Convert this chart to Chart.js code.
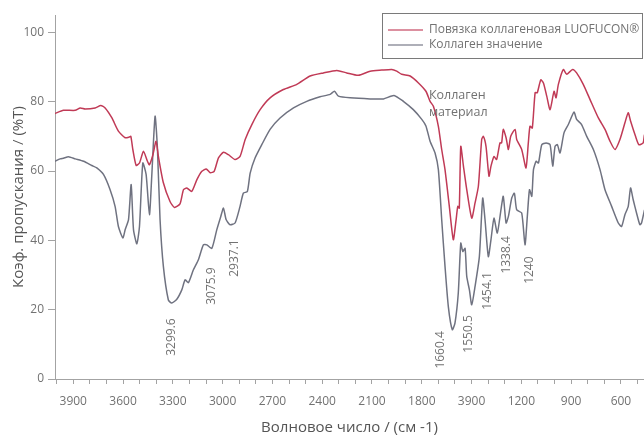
<!DOCTYPE html>
<html><head><meta charset="utf-8">
<script src="https://cdn.jsdelivr.net/npm/chart.js@4"></script>
<style>html,body{margin:0;padding:0;background:#fff;}#wrap{width:644px;height:437px;position:relative;}</style>
</head><body><div id="wrap"><canvas id="c" width="644" height="437"></canvas></div>
<script>
const seriesNames = ['Повязка коллагеновая LUOFUCON®', 'Коллаген значение'];

const redWavenumbers = [4010,3959,3888,3858,3828,3768,3734,3708,3667,3628,3587,3562,3553,3541,3521,3501,3477,3453,3441,3420,3401,3387,3357,3317,3290,3257,3236,3216,3186,3155,3125,3099,3075,3051,3025,2995,2965,2925,2895,2864,2824,2774,2714,2634,2553,2473,2393,2312,2252,2182,2111,2041,1981,1951,1921,1870,1820,1775,1750,1730,1700,1680,1660,1634,1610,1593,1583,1574,1565,1549,1529,1499,1479,1459,1439,1429,1413,1395,1383,1365,1349,1329,1319,1309,1292,1278,1264,1238,1228,1198,1172,1158,1148,1134,1117,1104,1083,1067,1047,1027,1003,991,977,947,927,891,867,827,786,736,696,666,636,606,576,556,542,512,492,466,458];
const redValues = [76.6,77.5,77.5,78.2,77.9,78.2,78.9,78.2,75.3,71.5,69.6,69.8,70.0,66.2,61.6,62.3,65.7,62.8,61.8,64.7,68.6,64.2,56.6,51.2,49.5,50.5,54.6,55.1,54.1,57.5,59.9,60.6,59.5,59.9,63.8,65.4,64.7,63.3,64.2,69.1,73.4,77.7,81.1,83.5,85.0,87.4,88.3,89.0,88.3,87.6,88.8,89.1,89.3,88.8,87.9,87.4,85.4,83.0,80.1,78.7,72.9,66.2,60.4,49.8,40.2,46.0,49.8,49.3,67.1,61.4,54.6,46.4,50.8,55.6,69.1,70.0,67.1,58.5,61.4,64.2,63.3,68.1,68.1,72.0,69.6,66.2,70.0,72.0,69.1,66.2,60.9,68.1,72.9,72.4,82.6,82.6,86.3,85.4,81.6,77.7,83.0,81.1,85.0,89.3,87.9,89.3,88.3,85.0,80.6,75.3,72.0,68.6,66.2,69.1,73.9,76.8,74.4,70.0,67.6,68.1,70.5];

const grayWavenumbers = [4010,3979,3959,3929,3888,3838,3788,3758,3718,3678,3648,3628,3601,3587,3567,3551,3537,3517,3501,3481,3461,3441,3427,3407,3393,3377,3357,3327,3307,3276,3246,3226,3206,3176,3146,3116,3095,3065,3035,3011,2995,2979,2955,2925,2895,2875,2851,2834,2804,2764,2714,2654,2573,2493,2413,2352,2326,2302,2232,2111,2031,1967,1911,1851,1800,1775,1750,1720,1700,1680,1660,1640,1616,1600,1580,1565,1553,1539,1529,1513,1499,1479,1453,1433,1419,1399,1383,1365,1345,1323,1309,1292,1278,1258,1242,1228,1198,1178,1164,1151,1137,1127,1111,1097,1077,1051,1027,1011,997,983,967,943,917,883,867,837,806,766,726,696,656,616,596,576,556,542,526,506,486,476,458];
const grayValues = [62.8,63.5,63.7,64.1,63.5,62.8,61.6,60.9,59.0,54.6,49.8,44.0,40.7,43.1,46.0,56.1,43.1,39.0,44.0,62.3,59.0,47.4,58.5,75.8,66.7,46.0,32.5,22.8,21.9,23.0,25.7,28.6,27.8,31.5,34.4,38.7,38.7,37.7,43.1,46.9,49.3,46.0,44.5,45.0,49.8,53.6,54.1,59.4,63.8,67.6,72.0,75.3,78.2,80.1,81.4,82.1,83.0,81.6,81.1,80.8,80.8,81.8,80.1,77.7,74.9,73.0,68.6,65.2,60.4,46.0,32.5,20.9,14.2,16.1,24.8,39.2,36.8,37.7,29.6,25.7,21.4,26.7,35.3,52.2,46.0,35.3,40.2,46.4,42.1,48.8,52.7,45.0,46.9,52.2,53.6,48.8,47.9,38.7,46.9,54.6,52.7,60.4,62.8,62.3,67.6,68.1,67.6,61.4,67.1,67.6,65.2,71.0,73.4,77.0,74.9,73.4,70.0,66.2,60.4,54.6,49.8,45.0,44.0,47.4,49.8,55.1,51.7,47.9,44.5,45.0,48.8];

const xTickValues = [3900,3600,3300,3000,2700,2400,2100,1800,1500,1200,900,600];
const xTickLabels = ['3900','3600','3300','3000','2700','2400','2100','1800','3900','1200','900','600'];
const yTickValues = [0,20,40,60,80,100];

const peakLabels = ['3299.6','3075.9','2937.1','1660.4','1550.5','1454.1','1338.4','1240'];
const peakWavenumbers = [3305,3064,2926,1685,1516,1402,1287,1152];
const peakLevels = [12.1,26.8,34.9,8.4,13.0,25.4,35.8,31.4];

const noteLines = ['Коллаген','материал'];
const noteWavenumber = 1757;
const noteLevels = [81.7,77.0];

const FONT = "'Open Sans', 'Noto Sans', sans-serif";
const TEXT = '#727272';
const AXIS = '#a3a3a3';
const RED = '#c03a56';
const GRAY = '#6f7280';

const annotPlugin = {
  id: 'annot',
  afterDatasetsDraw(chart) {
    const {ctx, scales: {x, y}} = chart;
    ctx.save();
    ctx.fillStyle = TEXT;
    ctx.font = '12px ' + FONT;
    ctx.textAlign = 'center';
    ctx.textBaseline = 'middle';
    peakLabels.forEach((t, i) => {
      ctx.save();
      ctx.translate(x.getPixelForValue(peakWavenumbers[i]), y.getPixelForValue(peakLevels[i]));
      ctx.rotate(-Math.PI / 2);
      ctx.fillText(t, 0, 0);
      ctx.restore();
    });
    ctx.textAlign = 'left';
    ctx.font = '12.5px ' + FONT;
    noteLines.forEach((t, i) => {
      ctx.fillText(t, x.getPixelForValue(noteWavenumber), y.getPixelForValue(noteLevels[i]));
    });
    ctx.restore();
  }
};

const legendPlugin = {
  id: 'boxLegend',
  afterDraw(chart) {
    const ctx = chart.ctx;
    const bx = 382.5, by = 13.5, bw = 260, bh = 45;
    ctx.save();
    ctx.fillStyle = '#fff';
    ctx.fillRect(bx, by, bw, bh);
    ctx.strokeStyle = '#7a7a7a';
    ctx.lineWidth = 1;
    ctx.strokeRect(bx, by, bw, bh);
    ctx.font = '12px ' + FONT;
    ctx.textBaseline = 'middle';
    ctx.textAlign = 'left';
    chart.data.datasets.forEach((ds, i) => {
      const yy = 30 + i * 15;
      ctx.strokeStyle = ds.borderColor;
      ctx.globalAlpha = 0.75;
      ctx.lineWidth = 1.5;
      ctx.beginPath();
      ctx.moveTo(388, yy);
      ctx.lineTo(423, yy);
      ctx.stroke();
      ctx.globalAlpha = 1;
      ctx.fillStyle = TEXT;
      ctx.fillText(ds.label, 429, yy);
    });
    ctx.restore();
  }
};

new Chart(document.getElementById('c'), {
  type: 'line',
  data: {
    datasets: [
      {label: seriesNames[0], data: redWavenumbers.map((w, i) => ({x: w, y: redValues[i]})), borderColor: RED, borderWidth: 1.5, pointRadius: 0, tension: 0.2, fill: false},
      {label: seriesNames[1], data: grayWavenumbers.map((w, i) => ({x: w, y: grayValues[i]})), borderColor: GRAY, borderWidth: 1.5, pointRadius: 0, tension: 0.2, fill: false}
    ]
  },
  options: {
    responsive: false,
    animation: false,
    layout: {padding: {top: 15, right: 0, left: 0, bottom: 0}},
    plugins: {legend: {display: false}, tooltip: {enabled: false}},
    scales: {
      x: {
        type: 'linear', reverse: true, min: 461, max: 4010,
        afterBuildTicks: s => { const t = []; for (let v = 500; v <= 4000; v += 100) t.push({value: v}); s.ticks = t; },
        afterFit: s => { s.height = 58; },
        ticks: {autoSkip: false, maxRotation: 0, color: TEXT, font: {family: FONT, size: 12}, padding: 10,
          callback: v => { const i = xTickValues.indexOf(v); return i >= 0 ? xTickLabels[i] : ''; }},
        grid: {display: true, drawOnChartArea: false, drawTicks: true, tickLength: 5, color: AXIS},
        border: {color: AXIS, width: 1},
        title: {display: true, text: 'Волновое число / (см -1)', color: '#555', font: {family: FONT, size: 15}, padding: {top: 0, bottom: 0}}
      },
      y: {
        min: 0, max: 105,
        afterBuildTicks: s => { s.ticks = yTickValues.map(v => ({value: v})); },
        afterFit: s => { s.width = 55; },
        ticks: {color: TEXT, font: {family: FONT, size: 12}, padding: 4},
        grid: {display: true, drawOnChartArea: false, drawTicks: true, tickLength: 7, color: AXIS},
        border: {color: AXIS, width: 1},
        title: {display: true, text: 'Коэф. пропускания / (%T)', color: '#555', font: {family: FONT, size: 15}, padding: {top: 10, bottom: 0}}
      }
    }
  },
  plugins: [annotPlugin, legendPlugin]
});
</script></body></html>
